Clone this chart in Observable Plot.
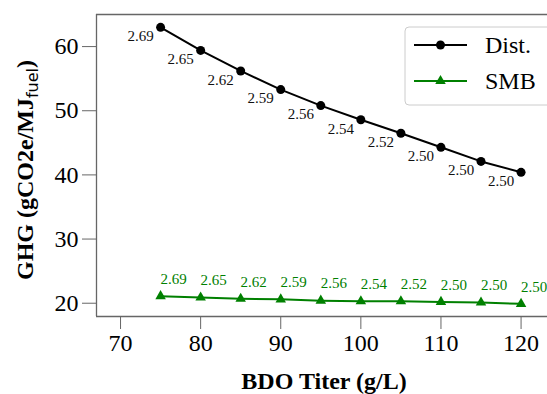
<!DOCTYPE html>
<html>
<head>
<meta charset="utf-8">
<script src="https://cdn.jsdelivr.net/npm/d3@7"></script>
<script src="https://cdn.jsdelivr.net/npm/@observablehq/plot@0.6"></script>
<style>
  html, body { margin: 0; padding: 0; background: #fff; overflow: hidden; }
  #chart svg { display: block; }
  #chart svg text { font-family: 'Liberation Serif', 'Times New Roman', serif; }
</style>
</head>
<body>
<div id="chart"></div>
<script>
const titer = [75, 80, 85, 90, 95, 100, 105, 110, 115, 120];
const distGHG = [63.0, 59.4, 56.2, 53.3, 50.8, 48.6, 46.5, 44.3, 42.1, 40.4];
const smbGHG = [21.1, 20.9, 20.7, 20.6, 20.4, 20.3, 20.3, 20.2, 20.1, 19.9];
const distLabels = ["2.69", "2.65", "2.62", "2.59", "2.56", "2.54", "2.52", "2.50", "2.50", "2.50"];
const smbLabels = ["2.69", "2.65", "2.62", "2.59", "2.56", "2.54", "2.52", "2.50", "2.50", "2.50"];
const xTicks = [70, 80, 90, 100, 110, 120];
const yTicks = [20, 30, 40, 50, 60];
const seriesNames = ["Dist.", "SMB"];

const dist = titer.map((t, i) => ({x: t, y: distGHG[i], label: distLabels[i]}));
const smb = titer.map((t, i) => ({x: t, y: smbGHG[i], label: smbLabels[i]}));

const xDomain = [67, 123.3];
const yDomain = [17.93, 65];
const serif = "'Liberation Serif', 'Times New Roman', serif";
const spine = "#666";

const plot = Plot.plot({
  width: 547,
  height: 394,
  marginLeft: 96,
  marginTop: 14,
  marginBottom: 78,
  marginRight: 0,
  style: {fontFamily: serif, background: "#fff", overflow: "hidden"},
  x: {domain: xDomain},
  y: {domain: yDomain},
  marks: [
    Plot.ruleY([yDomain[1]], {stroke: spine, strokeWidth: 1.3}),
    Plot.ruleY([yDomain[0]], {stroke: spine, strokeWidth: 1.3}),
    Plot.ruleX([xDomain[0]], {stroke: spine, strokeWidth: 1.3}),
    Plot.axisX({ticks: xTicks, tickSize: 13, tickPadding: 4, fontSize: 24, stroke: spine, fill: "#000", label: null, tickFormat: d => String(d)}),
    Plot.axisY({ticks: yTicks, tickSize: 14, tickPadding: 4, fontSize: 24, stroke: spine, fill: "#000", label: null, tickFormat: d => String(d)}),
    Plot.line(dist, {x: "x", y: "y", stroke: "black", strokeWidth: 2}),
    Plot.dot(dist, {x: "x", y: "y", r: 4.5, fill: "black", stroke: "none"}),
    Plot.text(dist, {x: "x", y: "y", text: "label", dx: -20, dy: 9, fontSize: 15, fill: "#111"}),
    Plot.line(smb, {x: "x", y: "y", stroke: "green", strokeWidth: 2}),
    Plot.dot(smb, {x: "x", y: "y", r: 3.9, symbol: "triangle", fill: "green", stroke: "none"}),
    Plot.text(smb, {x: "x", y: "y", text: "label", dx: 13, dy: -17, fontSize: 15, fill: "green"})
  ]
});

const svg = d3.select(plot);

// Axis titles
svg.append("text")
  .attr("x", 324).attr("y", 389)
  .attr("text-anchor", "middle")
  .attr("font-family", serif).attr("font-weight", "bold").attr("font-size", 24)
  .attr("fill", "#000")
  .text("BDO Titer (g/L)");

const yl = svg.append("text")
  .attr("transform", "translate(33,170) rotate(-90)")
  .attr("text-anchor", "middle")
  .attr("font-family", serif).attr("font-weight", "bold").attr("font-size", 24)
  .attr("fill", "#000");
yl.append("tspan").text("GHG (gCO2e/MJ");
yl.append("tspan").attr("font-family", "'DejaVu Sans', sans-serif").attr("font-weight", "normal")
  .attr("font-size", 16).attr("dy", 5).text("fuel");
yl.append("tspan").attr("dy", -5).text(")");

// Legend
const lg = svg.append("g");
lg.append("rect").attr("x", 405).attr("y", 27).attr("width", 300).attr("height", 78)
  .attr("rx", 4).attr("fill", "white").attr("fill-opacity", 0.85).attr("stroke", "#ccc").attr("stroke-width", 1);
const entries = [
  {name: seriesNames[0], color: "black", sym: d3.symbolCircle, size: Math.PI * 4.5 * 4.5, ly: 45},
  {name: seriesNames[1], color: "green", sym: d3.symbolTriangle, size: Math.PI * 3.9 * 3.9, ly: 81}
];
entries.forEach(e => {
  lg.append("line").attr("x1", 414).attr("x2", 467).attr("y1", e.ly).attr("y2", e.ly)
    .attr("stroke", e.color).attr("stroke-width", 2);
  lg.append("path").attr("d", d3.symbol(e.sym, e.size)()).attr("transform", `translate(440.5,${e.ly})`)
    .attr("fill", e.color);
  lg.append("text").attr("x", 485).attr("y", e.ly).attr("dy", "0.35em")
    .attr("text-anchor", "start")
    .attr("font-family", serif).attr("font-size", 24).attr("fill", "#000").text(e.name);
});

document.getElementById("chart").appendChild(plot);
</script>
</body>
</html>
